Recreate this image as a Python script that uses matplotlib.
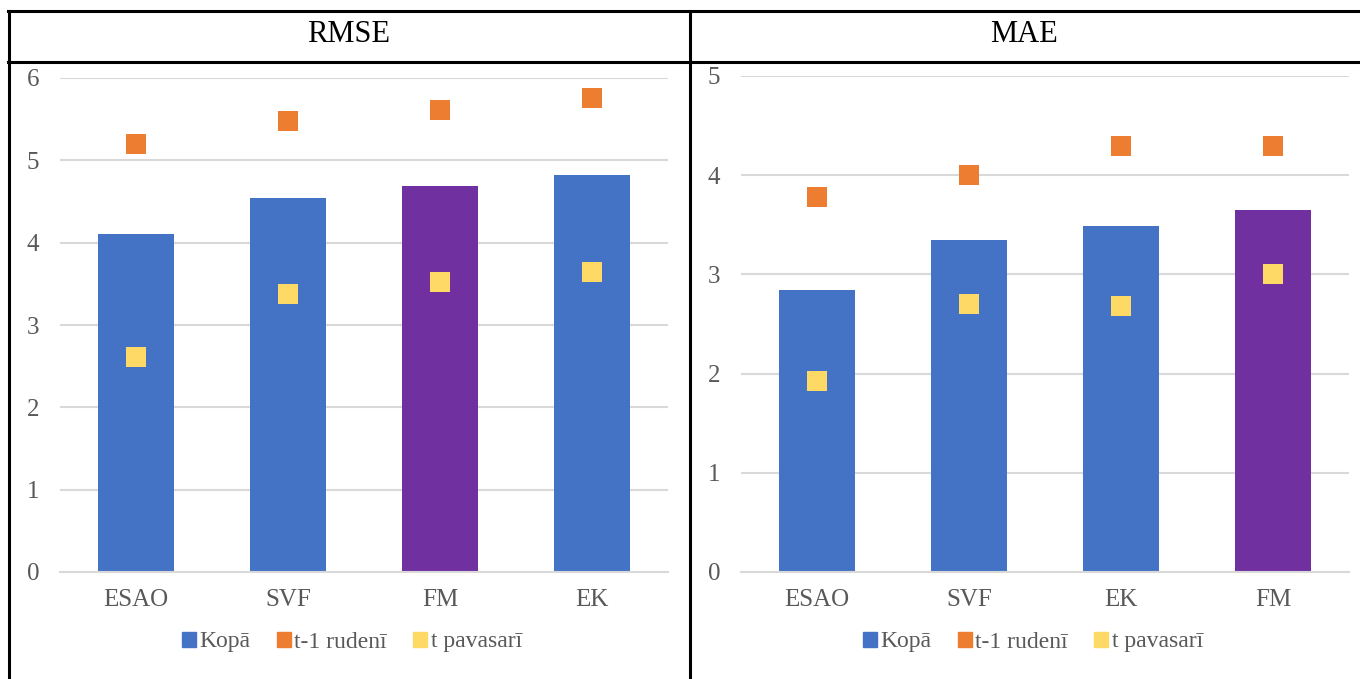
import matplotlib.pyplot as plt
from matplotlib.lines import Line2D
from matplotlib.patches import Patch

# ---------------------------------------------------------------- data
rmse_models = ['ESAO', 'SVF', 'FM', 'EK']
rmse_total = [4.11, 4.54, 4.69, 4.82]
rmse_autumn = [5.20, 5.48, 5.61, 5.76]
rmse_spring = [2.61, 3.38, 3.52, 3.64]

mae_models = ['ESAO', 'SVF', 'EK', 'FM']
mae_total = [2.84, 3.35, 3.49, 3.65]
mae_autumn = [3.78, 4.00, 4.29, 4.29]
mae_spring = [1.93, 2.70, 2.68, 3.00]

series_names = ['Kopā', 't-1 rudenī', 't pavasarī']

# ---------------------------------------------------------------- style
BLUE = '#4472C4'
PURPLE = '#7030A0'
ORANGE = '#ED7D31'
YELLOW = '#FFD966'
GRID = '#D9D9D9'
TXT = '#595959'

plt.rcParams['font.family'] = ['Liberation Serif', 'DejaVu Serif']

W, H = 1360, 679
fig = plt.figure(figsize=(W / 100, H / 100), dpi=100)


def fx(px):
    return px / W


def fy(py):
    return 1 - py / H


# table-like frame around the two charts (right edge is cut off)
frame = dict(color='black', lw=2.2, transform=fig.transFigure)
fig.add_artist(Line2D([fx(8), 1], [fy(11), fy(11)], **frame))
fig.add_artist(Line2D([fx(8), 1], [fy(62), fy(62)], **frame))
for xp in (8.5, 690):
    fig.add_artist(Line2D([fx(xp), fx(xp)], [fy(11), fy(679)], **frame))

fig.text(fx(349), fy(35), 'RMSE', ha='center', va='center', fontsize=22)
fig.text(fx(1024), fy(35), 'MAE', ha='center', va='center', fontsize=22)


def draw(left, right, top_px, ymax, models, total, autumn, spring, leg_x):
    ax = fig.add_axes([fx(left), fy(572), fx(right - left), fy(top_px) - fy(572)])
    x = range(len(models))
    colors = [PURPLE if m == 'FM' else BLUE for m in models]
    ax.bar(x, total, width=0.5, color=colors, zorder=2)
    ax.plot(x, autumn, 's', color=ORANGE, markersize=14, markeredgewidth=0, zorder=3)
    ax.plot(x, spring, 's', color=YELLOW, markersize=14, markeredgewidth=0, zorder=3)
    ax.set_xlim(-0.5, len(models) - 0.5)
    ax.set_ylim(0, ymax)
    ax.set_yticks(range(ymax + 1))
    ax.set_xticks(list(x))
    ax.set_xticklabels(models)
    ax.grid(axis='y', color=GRID, lw=1.5, zorder=0)
    for s in ('top', 'right', 'left'):
        ax.spines[s].set_visible(False)
    ax.spines['bottom'].set_color(GRID)
    ax.spines['bottom'].set_linewidth(1.5)
    ax.tick_params(axis='both', length=0, labelsize=18, colors=TXT)
    ax.tick_params(axis='y', pad=15)
    ax.tick_params(axis='x', pad=12)
    ax.set_facecolor('none')

    handles = [Patch(color=BLUE), Patch(color=ORANGE), Patch(color=YELLOW)]
    fig.legend(handles, series_names, loc='center', bbox_to_anchor=(fx(leg_x), fy(642)),
               ncol=3, frameon=False, fontsize=17, handlelength=0.6, handleheight=0.6,
               handletextpad=0.15, columnspacing=1.1, labelcolor=TXT)
    return ax


draw(60, 668, 78, 6, rmse_models, rmse_total, rmse_autumn, rmse_spring, 352)
draw(741, 1349, 76, 5, mae_models, mae_total, mae_autumn, mae_spring, 1033)

fig.savefig('out.png', dpi=100)
